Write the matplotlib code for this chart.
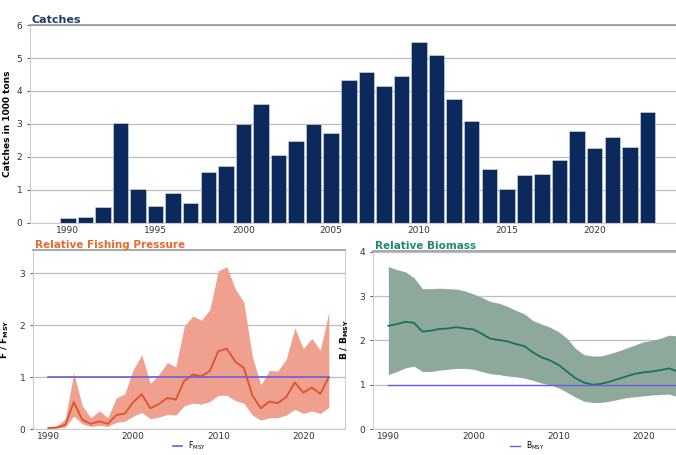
import matplotlib
matplotlib.use("Agg")
import matplotlib.pyplot as plt

# catches (1000 t)
catch_years = list(range(1990, 2024))
catches = [0.15, 0.18, 0.49, 3.03, 1.03, 0.52, 0.90, 0.60, 1.55, 1.74,
           2.99, 3.61, 2.07, 2.48, 2.99, 2.73, 4.33, 4.58, 4.14, 4.45,
           5.50, 5.10, 3.75, 3.09, 1.65, 1.03, 1.44, 1.49, 1.91, 2.80,
           2.28, 2.61, 2.29, 3.36]

# relative fishing pressure F/Fmsy
f_years = list(range(1990, 2024))
f_med = [0.02, 0.03, 0.08, 0.52, 0.18, 0.10, 0.15, 0.10, 0.27, 0.30,
         0.52, 0.67, 0.40, 0.48, 0.60, 0.57, 0.93, 1.05, 1.02, 1.12,
         1.50, 1.55, 1.30, 1.18, 0.65, 0.40, 0.53, 0.50, 0.62, 0.90,
         0.70, 0.80, 0.68, 1.00]
f_hi = [0.04, 0.06, 0.20, 1.08, 0.45, 0.22, 0.35, 0.22, 0.60, 0.68,
        1.15, 1.43, 0.88, 1.05, 1.28, 1.20, 1.98, 2.18, 2.10, 2.30,
        3.05, 3.13, 2.70, 2.45, 1.40, 0.85, 1.13, 1.12, 1.35, 1.95,
        1.55, 1.75, 1.52, 2.25]
f_lo = [0.01, 0.02, 0.04, 0.25, 0.10, 0.05, 0.07, 0.05, 0.13, 0.15,
        0.25, 0.32, 0.20, 0.23, 0.28, 0.27, 0.45, 0.50, 0.48, 0.53,
        0.65, 0.65, 0.55, 0.50, 0.27, 0.17, 0.22, 0.22, 0.27, 0.38,
        0.30, 0.35, 0.30, 0.42]

# relative biomass B/Bmsy
b_years = list(range(1990, 2025))
b_med = [2.33, 2.37, 2.42, 2.40, 2.20, 2.22, 2.26, 2.27, 2.30, 2.27,
         2.25, 2.15, 2.04, 2.01, 1.98, 1.92, 1.87, 1.73, 1.62, 1.55,
         1.45, 1.30, 1.15, 1.05, 1.00, 1.02, 1.07, 1.13, 1.19, 1.25,
         1.28, 1.30, 1.33, 1.37, 1.30]
b_hi = [3.67, 3.60, 3.55, 3.42, 3.17, 3.17, 3.18, 3.17, 3.16, 3.12,
        3.05, 2.97, 2.88, 2.84, 2.77, 2.68, 2.60, 2.45, 2.37, 2.30,
        2.20, 2.05, 1.82, 1.68, 1.65, 1.65, 1.70, 1.76, 1.83, 1.90,
        1.97, 2.00, 2.05, 2.12, 2.10]
b_lo = [1.23, 1.30, 1.38, 1.42, 1.30, 1.30, 1.33, 1.35, 1.37, 1.37,
        1.35, 1.30, 1.25, 1.23, 1.20, 1.18, 1.15, 1.10, 1.04, 1.00,
        0.93, 0.83, 0.72, 0.63, 0.60, 0.60, 0.63, 0.67, 0.71, 0.73,
        0.75, 0.77, 0.78, 0.79, 0.73]

GRID = "#bdbdbd"


def style_axes(ax):
    ax.grid(axis="y", color=GRID, linewidth=0.9)
    ax.set_axisbelow(True)
    ax.spines["top"].set_color("#9a9a9a")
    ax.spines["top"].set_linewidth(1.2)
    for s in ("left", "bottom", "right"):
        ax.spines[s].set_color("#cccccc")
        ax.spines[s].set_linewidth(0.8)
    ax.tick_params(labelsize=6.5, colors="#333333", length=2, width=0.6)
    ax.tick_params(axis="x", length=0, pad=2)


fig = plt.figure(figsize=(6.76, 4.55), dpi=100)

# top: catches
ax1 = fig.add_axes([0.0444, 0.510, 0.960, 0.435])
ax1.bar(catch_years, catches, width=0.88, color="#0b2a5b",
        edgecolor="#d8e0ea", linewidth=0.4)
ax1.set_xlim(1987.85, 2024.8)
ax1.set_ylim(0, 6)
ax1.set_yticks(range(0, 7))
ax1.set_xticks([1990, 1995, 2000, 2005, 2010, 2015, 2020])
style_axes(ax1)
ax1.spines["right"].set_visible(False)
ax1.set_ylabel("Catches in 1000 tons", fontsize=6.5, fontweight="bold", labelpad=3)
ax1.set_title("Catches", loc="left", fontsize=8, fontweight="bold",
              color="#1f3b66", pad=1.5, x=0.003)

# bottom left: F/Fmsy
ax2 = fig.add_axes([0.0488, 0.057, 0.4615, 0.3934])
ax2.fill_between(f_years, f_lo, f_hi, color="#efa08e", linewidth=0)
ax2.plot(f_years, f_med, color="#e0522a", linewidth=1.3)
ax2.plot([f_years[0], f_years[-1]], [1, 1], color="#6b5fd6", linewidth=1.2,
         label=r"F$_{\mathregular{MSY}}$")
ax2.set_xlim(1988.2, 2024.9)
ax2.set_ylim(0, 3.45)
ax2.set_yticks([0, 1, 2, 3])
ax2.set_xticks([1990, 2000, 2010, 2020])
style_axes(ax2)
ax2.set_ylabel(r"F / F$_{\mathregular{MSY}}$", fontsize=6.5, fontweight="bold", labelpad=6)
ax2.set_title("Relative Fishing Pressure", loc="left", fontsize=7.5,
              fontweight="bold", color="#e8692f", pad=1.5, x=0.005)
ax2.legend(loc="lower center", bbox_to_anchor=(0.28, 0.004),
           bbox_transform=fig.transFigure, frameon=False, fontsize=5.5,
           handlelength=1.2, borderpad=0.1, borderaxespad=0)

# bottom right: B/Bmsy
ax3 = fig.add_axes([0.5518, 0.057, 0.4530, 0.3914])
ax3.fill_between(b_years, b_lo, b_hi, color="#8ea89c", linewidth=0)
ax3.plot(b_years, b_med, color="#14755a", linewidth=1.3)
ax3.plot([b_years[0], b_years[-1]], [1, 1], color="#6b5fd6", linewidth=1.0,
         label=r"B$_{\mathregular{MSY}}$")
ax3.set_xlim(1988.2, 2024.2)
ax3.set_ylim(0, 4.02)
ax3.set_yticks([0, 1, 2, 3, 4])
ax3.set_xticks([1990, 2000, 2010, 2020])
style_axes(ax3)
ax3.spines["right"].set_visible(False)
ax3.set_ylabel(r"B / B$_{\mathregular{MSY}}$", fontsize=6.5, fontweight="bold", labelpad=6)
ax3.set_title("Relative Biomass", loc="left", fontsize=7.5,
              fontweight="bold", color="#1f8a70", pad=1.5, x=0.005)
ax3.legend(loc="lower center", bbox_to_anchor=(0.78, 0.004),
           bbox_transform=fig.transFigure, frameon=False, fontsize=5.5,
           handlelength=1.2, borderpad=0.1, borderaxespad=0)

fig.savefig("out.png", dpi=100)
